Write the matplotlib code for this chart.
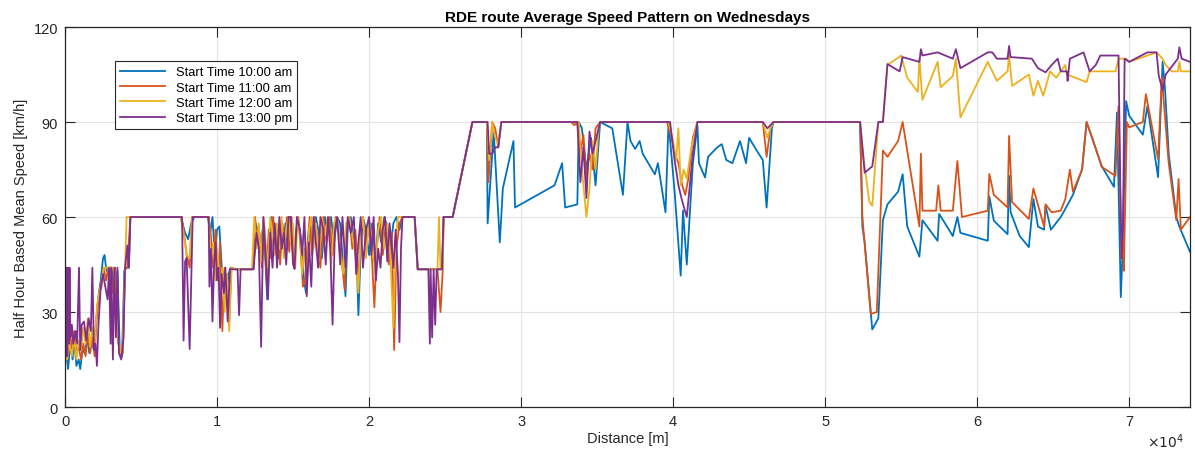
import numpy as np
import matplotlib
matplotlib.use('Agg')
import matplotlib.pyplot as plt

# Readings: (distance in km, speed in km/h) for each start time
blue_pts = [
    (0, 13), (0.1, 18), (0.2, 12), (0.35, 20), (0.5, 15), (0.6, 22), (0.75, 13), (0.9, 15), (1.0, 12),
    (1.15, 18), (1.3, 17), (1.45, 22), (1.6, 17), (1.75, 21), (1.9, 18), (2.05, 27), (2.2, 35), (2.35, 40),
    (2.5, 47), (2.6, 48), (2.7, 44), (2.85, 42), (3.0, 38), (3.1, 44), (3.3, 30), (3.45, 43), (3.6, 18),
    (3.75, 16), (3.9, 43), (4.05, 44), (4.2, 44), (4.3, 60),
    (7.6, 60), (7.9, 55), (8.1, 53), (8.3, 58), (8.5, 60), (9.4, 60), (9.55, 55), (9.7, 60), (9.85, 48),
    (10.0, 56), (10.15, 57), (10.3, 45), (10.45, 40), (10.6, 34), (10.75, 42), (10.9, 44), (11.2, 43.5),
    (12.4, 43.5), (12.55, 58), (12.7, 55), (12.85, 48), (13.0, 56), (13.15, 50), (13.3, 34), (13.45, 52),
    (13.6, 60), (13.75, 48), (13.9, 54), (14.05, 47), (14.2, 56), (14.35, 50), (14.5, 58), (14.65, 50),
    (14.8, 60), (15.0, 48), (15.15, 52), (15.3, 60), (15.5, 54), (15.7, 41), (15.85, 36), (16.0, 46),
    (16.15, 58), (16.3, 52), (16.5, 60), (16.7, 55), (16.9, 47), (17.1, 60), (17.3, 55), (17.5, 60),
    (17.7, 52), (17.9, 60), (18.1, 58), (18.3, 44), (18.45, 35), (18.6, 57), (18.8, 60), (19.0, 52),
    (19.2, 45), (19.3, 29), (19.45, 50), (19.6, 60), (19.8, 56), (20.0, 48), (20.2, 58), (20.4, 44),
    (20.6, 58), (20.8, 52), (21.0, 60), (21.2, 57), (21.4, 50), (21.6, 58), (21.8, 60), (22.0, 56),
    (22.2, 60), (23.0, 60), (23.2, 43.5), (24.8, 43.5), (24.9, 60), (25.5, 60), (26.8, 90), (27.75, 90),
    (27.8, 58), (28.2, 87), (28.6, 52), (28.8, 69), (29.5, 84), (29.6, 63), (32.2, 70), (32.7, 77),
    (32.9, 63), (33.7, 64), (33.8, 90), (34.0, 88), (34.3, 75), (34.6, 85), (34.9, 70), (35.2, 90),
    (36.0, 88), (36.7, 67), (37.0, 90), (37.2, 84), (37.5, 81.5), (37.8, 84), (38.0, 80), (38.8, 73.5),
    (39.0, 77), (39.5, 61.5), (39.7, 90), (40.1, 68), (40.5, 41.5), (40.65, 62), (40.9, 45), (41.3, 77),
    (41.6, 89), (41.7, 77), (42.1, 72.5), (42.3, 79), (42.9, 82), (43.2, 83), (43.5, 78), (43.9, 77),
    (44.4, 84), (44.8, 77), (45.0, 85), (45.5, 81), (45.9, 78), (46.15, 63), (46.5, 88), (46.6, 90),
    (52.3, 90), (52.45, 57), (52.6, 52), (53.1, 24.5), (53.5, 28), (53.8, 59), (54.1, 64), (54.8, 68),
    (55.1, 73.5), (55.4, 57), (56.2, 47.5), (56.4, 59), (57.4, 52.5), (57.5, 61), (58.4, 54), (58.7, 60),
    (58.9, 55), (60.7, 52.5), (60.8, 66.5), (61.1, 58.8), (62.0, 54.6), (62.1, 73), (62.2, 61.5),
    (62.8, 54), (63.4, 50.5), (63.7, 65.7), (64.0, 57), (64.4, 56), (64.5, 63.5), (64.85, 56), (65.5, 60),
    (65.85, 63), (66.3, 67), (66.9, 75), (67.2, 90), (68.2, 76), (69.0, 69.5), (69.2, 93), (69.45, 34.7),
    (69.55, 47), (69.8, 96.6), (70.0, 92), (70.9, 86), (71.2, 95), (71.9, 72.6), (72.2, 109), (72.35, 101),
    (72.6, 80), (73.1, 60), (73.3, 57), (74.0, 49),
]

orange_pts = [
    (0, 16), (0.1, 44), (0.15, 20), (0.3, 26), (0.45, 18), (0.6, 24), (0.75, 17), (0.9, 19), (1.05, 15),
    (1.2, 20), (1.35, 16), (1.5, 24), (1.65, 17), (1.8, 22), (1.95, 16), (2.1, 30), (2.25, 36), (2.4, 38),
    (2.55, 44), (2.7, 40), (2.85, 44), (3.0, 44), (3.15, 36), (3.3, 44), (3.5, 20), (3.65, 18), (3.8, 17),
    (3.95, 44), (4.1, 44), (4.3, 60),
    (7.6, 60), (7.75, 58), (8.0, 48), (8.2, 44), (8.35, 60), (9.45, 60), (9.6, 54), (9.75, 44), (9.9, 56),
    (10.05, 40), (10.2, 52), (10.35, 24), (10.5, 44), (10.65, 38), (10.8, 27), (10.95, 44), (11.2, 43.5),
    (12.35, 43.5), (12.5, 60), (12.65, 52), (12.8, 55), (12.95, 44), (13.1, 58), (13.25, 40), (13.4, 56),
    (13.55, 47), (13.7, 60), (13.85, 50), (14.0, 55), (14.15, 45), (14.3, 58), (14.45, 52), (14.6, 60),
    (14.75, 49), (14.9, 60), (15.05, 46), (15.2, 55), (15.35, 60), (15.5, 50), (15.65, 38), (15.8, 40),
    (15.95, 52), (16.1, 60), (16.25, 48), (16.4, 60), (16.6, 54), (16.8, 44), (17.0, 60), (17.2, 52),
    (17.4, 60), (17.6, 48), (17.8, 60), (18.0, 55), (18.2, 46), (18.4, 37), (18.55, 55), (18.7, 60),
    (18.9, 50), (19.1, 56), (19.3, 40), (19.45, 54), (19.6, 60), (19.8, 50), (20.0, 58), (20.2, 46),
    (20.35, 31.5), (20.5, 50), (20.7, 60), (20.9, 48), (21.1, 58), (21.3, 45), (21.5, 55), (21.65, 18),
    (21.8, 50), (22.0, 58), (22.2, 60), (23.0, 60), (23.2, 43.5), (24.5, 43.5), (24.7, 30), (24.85, 43.5),
    (24.9, 60), (25.5, 60), (26.8, 90), (27.75, 90),
    (27.85, 71), (28.1, 90), (28.3, 88), (28.5, 82), (28.7, 90), (33.3, 90), (33.5, 89), (33.7, 90),
    (33.9, 80), (34.1, 86), (34.3, 72), (34.5, 80), (34.7, 75), (34.9, 88), (35.2, 90), (39.6, 90),
    (39.9, 85), (40.1, 80), (40.35, 77), (40.6, 70), (40.8, 67), (41.0, 72), (41.3, 85), (41.6, 90),
    (45.9, 90), (46.15, 79), (46.4, 88), (46.6, 90), (52.3, 90), (52.45, 60), (53.0, 29.4), (53.4, 30),
    (53.8, 81), (54.1, 79), (54.8, 84), (55.1, 90), (56.2, 57), (56.3, 80), (56.4, 62), (57.3, 62),
    (57.45, 70), (57.6, 62), (58.4, 62), (58.7, 77.7), (59.0, 60), (60.7, 62), (60.8, 73.6), (61.1, 67),
    (62.0, 63), (62.1, 85.6), (62.3, 64.7), (63.4, 59.4), (63.7, 69), (64.4, 57), (64.5, 64), (64.9, 61.5),
    (65.5, 62), (65.8, 65.7), (66.1, 75), (66.3, 68), (66.9, 75), (67.2, 90), (67.6, 84.6), (68.2, 75.8),
    (69.1, 73), (69.3, 95), (69.5, 47), (69.6, 53), (69.65, 43), (69.85, 90), (70.0, 88.3), (70.9, 90),
    (71.1, 98.8), (71.9, 78.3), (72.15, 104), (72.6, 77), (73.1, 59), (73.25, 72), (73.4, 56), (74.0, 60),
]

yellow_pts = [
    (0, 8), (0.1, 44), (0.15, 15), (0.3, 20), (0.45, 16), (0.6, 22), (0.75, 15), (0.9, 21), (1.05, 18),
    (1.2, 25), (1.35, 20), (1.5, 28), (1.65, 19), (1.8, 25), (1.95, 20), (2.1, 32), (2.25, 36), (2.4, 40),
    (2.55, 44), (2.7, 44), (2.85, 44), (3.0, 44), (3.15, 44), (3.3, 40), (3.5, 22), (3.65, 17), (3.8, 20),
    (3.95, 44), (4.05, 60), (4.3, 60),
    (7.6, 60), (7.8, 55), (8.0, 48), (8.2, 47), (8.35, 60), (9.45, 60), (9.6, 46), (9.75, 52), (9.9, 40),
    (10.05, 48), (10.2, 35), (10.35, 44), (10.5, 30), (10.65, 42), (10.8, 24), (10.95, 44), (11.2, 43.5),
    (12.3, 43.5), (12.45, 60), (12.6, 50), (12.75, 58), (12.9, 46), (13.05, 60), (13.2, 52), (13.35, 44),
    (13.5, 60), (13.65, 55), (13.8, 48), (13.95, 58), (14.1, 50), (14.25, 60), (14.4, 47), (14.55, 56),
    (14.7, 60), (14.85, 52), (15.0, 58), (15.15, 44), (15.3, 60), (15.45, 55), (15.6, 42), (15.75, 50),
    (15.9, 38), (16.05, 56), (16.2, 60), (16.35, 50), (16.5, 58), (16.7, 46), (16.9, 60), (17.1, 54),
    (17.3, 60), (17.5, 45), (17.7, 58), (17.9, 60), (18.1, 50), (18.3, 42), (18.5, 58), (18.7, 60),
    (18.9, 54), (19.1, 48), (19.3, 36), (19.45, 55), (19.6, 60), (19.8, 47), (20.0, 60), (20.2, 52),
    (20.4, 42), (20.6, 56), (20.8, 60), (21.0, 50), (21.2, 58), (21.4, 48), (21.6, 25), (21.75, 52),
    (21.9, 60), (22.2, 60), (23.0, 60), (23.2, 43.5), (24.5, 43.5), (24.6, 60), (24.7, 43.5), (24.85, 43.5),
    (24.9, 60), (25.5, 60), (26.8, 90), (27.75, 90),
    (27.9, 78), (28.1, 90), (28.3, 85), (28.5, 83), (28.7, 90), (33.3, 90), (33.8, 90), (34.0, 75),
    (34.3, 60), (34.5, 69), (34.7, 84), (34.9, 75), (35.1, 88), (35.2, 90), (39.7, 90), (40.0, 84),
    (40.2, 78), (40.35, 88), (40.5, 70), (40.7, 75), (40.9, 72), (41.2, 82), (41.6, 90), (45.9, 90),
    (46.2, 85), (46.4, 88), (46.6, 90), (52.3, 90), (52.55, 78), (52.9, 65), (53.1, 63.5), (53.5, 90),
    (53.8, 90), (54.1, 108), (55.0, 111), (55.4, 104), (56.1, 99.5), (56.2, 110), (56.4, 97), (57.4, 109),
    (57.6, 101), (58.4, 104.5), (58.6, 110), (58.9, 91.5), (60.7, 109), (61.3, 103), (62.0, 106),
    (62.1, 111), (62.3, 101.4), (63.4, 105), (63.7, 98.3), (64.0, 103), (64.35, 98.3), (64.8, 106),
    (65.2, 104), (65.8, 108), (65.9, 105), (67.2, 102.6), (67.4, 106), (69.1, 106), (69.3, 110),
    (69.8, 110), (70.0, 109), (71.2, 111), (71.8, 112), (72.2, 110), (72.4, 108), (72.8, 106), (73.2, 106),
    (73.3, 109), (73.4, 106), (74.0, 106),
]

purple_pts = [
    (0, 44), (0.05, 18), (0.1, 44), (0.15, 16), (0.2, 44), (0.25, 20), (0.3, 44), (0.35, 22), (0.45, 26),
    (0.55, 20), (0.7, 24), (0.8, 20), (0.92, 44), (1.0, 18), (1.1, 26), (1.25, 27), (1.4, 21), (1.55, 28),
    (1.7, 24), (1.8, 44), (1.9, 18), (2.0, 20), (2.1, 13), (2.2, 26), (2.35, 38), (2.5, 42), (2.65, 38),
    (2.8, 34), (2.9, 44), (3.0, 20), (3.05, 44), (3.15, 15), (3.25, 44), (3.35, 22), (3.45, 44), (3.55, 17),
    (3.7, 15), (3.85, 22), (3.95, 44), (4.1, 51), (4.2, 44), (4.3, 60),
    (7.7, 60), (7.8, 21), (7.9, 46), (8.0, 47), (8.2, 18.3), (8.4, 60), (9.45, 60), (9.5, 38), (9.6, 50),
    (9.7, 27), (9.8, 44), (9.9, 52), (10.0, 40), (10.1, 44), (10.2, 25), (10.3, 42), (10.45, 36),
    (10.55, 44), (10.7, 27), (10.85, 43.5), (11.35, 43.5), (11.45, 29), (11.55, 43.5), (12.4, 43.5),
    (12.6, 55), (12.75, 50), (12.9, 19), (13.05, 60), (13.2, 48), (13.35, 34), (13.5, 55), (13.65, 44),
    (13.8, 58), (13.95, 44), (14.1, 60), (14.25, 50), (14.4, 55), (14.55, 45), (14.7, 60), (14.85, 60),
    (15.0, 45), (15.1, 43.6), (15.25, 60), (15.45, 56), (15.6, 48), (15.75, 60), (15.9, 35), (16.05, 52),
    (16.2, 38), (16.35, 60), (16.5, 52), (16.65, 44), (16.8, 60), (17.0, 56), (17.15, 45), (17.3, 60),
    (17.45, 50), (17.6, 26), (17.75, 55), (17.9, 60), (18.1, 45), (18.25, 60), (18.45, 44), (18.6, 60),
    (18.8, 55), (19.0, 60), (19.15, 42), (19.3, 52), (19.45, 60), (19.6, 44), (19.8, 56), (20.0, 60),
    (20.15, 48), (20.3, 60), (20.45, 40), (20.6, 50), (20.75, 44), (20.9, 56), (21.05, 60), (21.2, 46),
    (21.35, 58), (21.5, 50), (21.6, 44), (21.75, 56), (21.9, 42), (22.0, 20.5), (22.1, 50), (22.2, 60),
    (23.0, 60), (23.2, 43.5), (23.9, 43.5), (24.0, 20), (24.05, 43.5), (24.15, 22), (24.25, 43.5),
    (24.35, 26), (24.45, 43.5), (24.8, 43.5), (24.9, 60), (25.5, 60), (26.8, 90), (27.8, 90),
    (27.9, 80), (28.1, 80), (28.3, 82), (28.5, 82), (28.7, 90), (33.7, 90), (33.9, 71), (34.1, 82),
    (34.3, 66), (34.5, 87), (34.7, 80), (35.2, 90), (39.8, 90), (40.1, 78), (40.35, 70), (40.6, 65),
    (40.9, 60), (41.3, 80), (41.6, 90), (45.9, 90), (46.2, 88), (46.6, 90), (52.3, 90), (52.6, 74),
    (53.1, 76), (53.5, 90), (53.8, 90), (54.1, 108.3), (54.9, 106), (55.1, 110.5), (56.2, 109),
    (56.3, 113), (56.4, 111), (57.4, 112), (58.4, 110), (58.6, 113), (58.9, 107), (60.7, 112), (61.0, 112),
    (61.3, 110), (62.0, 110), (62.1, 114), (62.2, 110.5), (63.6, 110), (64.0, 107), (64.5, 105.7),
    (64.9, 108), (65.3, 110), (65.5, 106), (65.9, 106), (65.95, 103), (66.1, 110), (67.0, 112),
    (67.4, 106), (67.8, 108), (68.1, 111), (69.3, 111), (69.45, 58), (69.5, 47), (69.6, 60), (69.7, 110),
    (70.0, 109), (71.2, 112), (71.8, 112), (71.95, 104.5), (72.2, 100), (72.4, 105), (73.2, 110),
    (73.3, 113.6), (73.45, 110), (74.0, 109),
]

labels = ['Start Time 10:00 am', 'Start Time 11:00 am', 'Start Time 12:00 am', 'Start Time 13:00 pm']
colors = ['#0072BD', '#D95319', '#EDB120', '#7E2F8E']

plt.rcParams['font.family'] = ['Liberation Sans', 'DejaVu Sans']

fig = plt.figure(figsize=(11.95, 4.52), dpi=100)
ax = fig.add_axes([0.0544, 0.0973, 0.9414, 0.8407])

for pts, lab, col in zip([blue_pts, orange_pts, yellow_pts, purple_pts], labels, colors):
    km, speed = zip(*pts)
    ax.plot(np.array(km) * 1000, speed, color=col, lw=1.3, label=lab)

ax.set_xlim(0, 74000)
ax.set_ylim(0, 120)
ax.set_xticks(np.arange(0, 80000, 10000))
ax.set_xticklabels([str(i) for i in range(8)])
ax.set_yticks([0, 30, 60, 90, 120])
ax.grid(True, color='#e3e3e3', lw=0.8)
ax.set_axisbelow(True)
ax.tick_params(direction='in', length=7, width=0.8, top=True, right=True,
               labelsize=10.5, colors='#262626', pad=5)
for sp in ax.spines.values():
    sp.set_color('#262626')
    sp.set_linewidth(0.9)

ax.set_title('RDE route Average Speed Pattern on Wednesdays', fontsize=11, fontweight='bold', pad=4)
ax.set_xlabel('Distance [m]', fontsize=10.5, color='#262626', labelpad=2)
ax.set_ylabel('Half Hour Based Mean Speed [km/h]', fontsize=10.5, color='#262626', labelpad=4)
# exponent of the distance axis, MATLAB style, under the right end
ax.text(0.995, -0.063, r'$\times10^{4}$', transform=ax.transAxes, ha='right', va='top',
        fontsize=10, color='#262626')

leg = ax.legend(loc='upper left', bbox_to_anchor=(0.0444, 0.9105), borderaxespad=0,
                fontsize=9.3, handlelength=3.5, labelspacing=0.25, fancybox=False,
                framealpha=1, edgecolor='#262626', borderpad=0.4)
leg.get_frame().set_linewidth(0.8)

fig.savefig('out.png', dpi=100)
